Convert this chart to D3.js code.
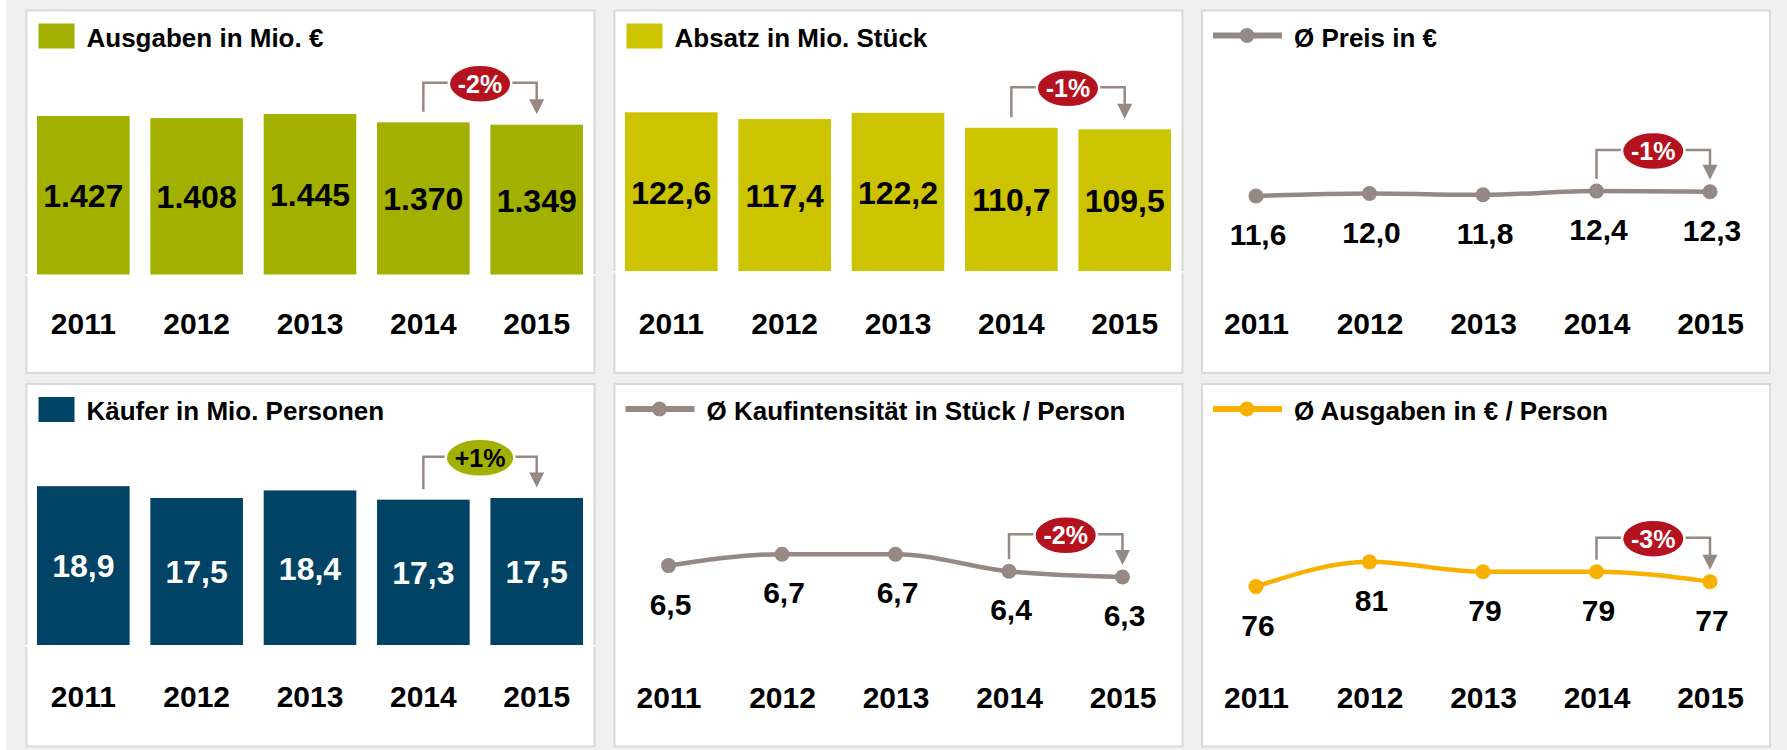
<!DOCTYPE html>
<html>
<head>
<meta charset="utf-8">
<script src="https://cdn.jsdelivr.net/npm/d3@7"></script>
<style>
  html, body { margin: 0; padding: 0; background: #f0f0f0; }
  svg { display: block; font-family: "Liberation Sans", Arial, Helvetica, sans-serif; font-weight: bold; }
</style>
</head>
<body>
<svg id="chart" width="1787" height="750"></svg>
<script>
// ---- data ----
const years = ["2011", "2012", "2013", "2014", "2015"];
const ausgaben = [1427, 1408, 1445, 1370, 1349];          // Mio. €
const absatz = [122.6, 117.4, 122.2, 110.7, 109.5];       // Mio. Stück
const preis = [11.6, 12.0, 11.8, 12.4, 12.3];             // € je Stück
const kaeufer = [18.9, 17.5, 18.4, 17.3, 17.5];           // Mio. Personen
const kaufintensitaet = [6.5, 6.7, 6.7, 6.4, 6.3];        // Stück je Person
const ausgabenProPerson = [76, 81, 79, 79, 77];           // € je Person
const changes = ["-2%", "-1%", "-1%", "+1%", "-2%", "-3%"]; // 2015 vs. 2014

// ---- styles ----
const GREEN = "#a2b000", YELLOW = "#ccc400", NAVY = "#004365";
const GRAY = "#968984", ORANGE = "#f8b100", RED = "#b4121f";

const de = d3.formatLocale({ decimal: ",", thousands: ".", grouping: [3], currency: ["", " €"] });

const panels = [
  { kind: "bar", col: 0, row: 0, title: "Ausgaben in Mio. €", values: ausgaben, fmt: de.format(",.0f"),
    color: GREEN, valueColor: "#000", domain: [0, 1600], range: [264.8, 86.2],
    change: changes[0], badgeFill: RED, badgeText: "#fff", rise: 29 },
  { kind: "bar", col: 1, row: 0, title: "Absatz in Mio. Stück", values: absatz, fmt: de.format(",.1f"),
    color: YELLOW, valueColor: "#000", domain: [0, 140], range: [261.2, 79.2],
    change: changes[1], badgeFill: RED, badgeText: "#fff", rise: 30 },
  { kind: "line", col: 2, row: 0, title: "Ø Preis in €", values: preis, fmt: de.format(".1f"),
    color: GRAY, domain: [0, 20], range: [257.7, 133.3],
    change: changes[2], badgeFill: RED, badgeText: "#fff", rise: 29 },
  { kind: "bar", col: 0, row: 1, title: "Käufer in Mio. Personen", values: kaeufer, fmt: de.format(".1f"),
    color: NAVY, valueColor: "#fff", domain: [0, 20], range: [261.7, 92.9],
    change: changes[3], badgeFill: GREEN, badgeText: "#000", rise: 30.7 },
  { kind: "line", col: 1, row: 1, title: "Ø Kaufintensität in Stück / Person", values: kaufintensitaet, fmt: de.format(".1f"),
    color: GRAY, domain: [5, 8], range: [267.1, 96.1],
    change: changes[4], badgeFill: RED, badgeText: "#fff", rise: 25 },
  { kind: "line", col: 2, row: 1, title: "Ø Ausgaben in € / Person", values: ausgabenProPerson, fmt: de.format(".0f"),
    color: ORANGE, domain: [60, 100], range: [281.8, 83.8],
    change: changes[5], badgeFill: RED, badgeText: "#fff", rise: 22 }
];

// ---- layout ----
const colX = [26.5, 614.5, 1202];
const rowY = [10.5, 384];
const PW = 568, PH = 362.5;
const YEAR_BASELINE = 323.5;

const svg = d3.select("#chart");
svg.append("rect").attr("width", 1787).attr("height", 750).attr("fill", "#f0f0f0");
svg.append("rect").attr("width", 6).attr("height", 750).attr("fill", "#ffffff");

panels.forEach(p => {
  const g = svg.append("g").attr("transform", `translate(${colX[p.col]},${rowY[p.row]})`);

  g.append("rect")
    .attr("width", PW).attr("height", PH)
    .attr("fill", "#fff").attr("stroke", "#d9d9d9").attr("stroke-width", 2);

  const y = d3.scaleLinear().domain(p.domain).range(p.range);
  let xc, topOf, gap;

  if (p.kind === "bar") {
    const x = d3.scaleBand().domain(years).range([10.5, 556.5]).paddingInner(0.183).paddingOuter(0);
    xc = d => x(d) + x.bandwidth() / 2;
    topOf = v => y(v);
    gap = 10.5;

    // legend swatch + title
    g.append("rect").attr("x", 12).attr("y", 13).attr("width", 36).attr("height", 25).attr("fill", p.color);
    g.append("text").attr("x", 60).attr("y", 36).attr("font-size", 26).attr("fill", "#000").text(p.title);

    g.selectAll("rect.bar").data(p.values).join("rect")
      .attr("class", "bar")
      .attr("x", (d, i) => x(years[i]))
      .attr("y", d => y(d))
      .attr("width", x.bandwidth())
      .attr("height", d => y(0) - y(d))
      .attr("fill", p.color);

    g.selectAll("text.val").data(p.values).join("text")
      .attr("class", "val")
      .attr("x", (d, i) => xc(years[i]))
      .attr("y", d => (y(d) + y(0)) / 2)
      .attr("dy", "0.36em")
      .attr("text-anchor", "middle")
      .attr("font-size", 32)
      .attr("fill", p.valueColor)
      .text(d => p.fmt(d));

    // category axis with white baseline
    const axisY = y(0);
    const ax = g.append("g").attr("transform", `translate(0,${axisY})`)
      .call(d3.axisBottom(x).tickSize(0).tickPadding(YEAR_BASELINE - axisY - 0.71 * 30));
    ax.select(".domain").attr("stroke", "#fff").attr("stroke-width", 1.5).attr("d", `M-1,0H${PW + 1}`);
    ax.selectAll("text").attr("font-size", 30).attr("font-weight", "bold").attr("fill", "#000")
      .attr("font-family", "\"Liberation Sans\", Arial, sans-serif");
  } else {
    const x = d3.scalePoint().domain(years).range([54, 508]);
    xc = d => x(d);
    topOf = v => y(v);
    gap = 12;

    // legend line + title
    g.append("line").attr("x1", 11).attr("x2", 80).attr("y1", 25).attr("y2", 25)
      .attr("stroke", p.color).attr("stroke-width", 6);
    g.append("circle").attr("cx", 45).attr("cy", 25).attr("r", 7.5).attr("fill", p.color);
    g.append("text").attr("x", 92).attr("y", 36).attr("font-size", 26).attr("fill", "#000").text(p.title);

    const line = d3.line()
      .x((d, i) => x(years[i]))
      .y(d => y(d))
      .curve(d3.curveMonotoneX);
    g.append("path").datum(p.values)
      .attr("d", line).attr("fill", "none")
      .attr("stroke", p.color).attr("stroke-width", 4.5).attr("stroke-linejoin", "round");

    g.selectAll("circle.pt").data(p.values).join("circle")
      .attr("class", "pt")
      .attr("cx", (d, i) => x(years[i]))
      .attr("cy", d => y(d))
      .attr("r", 7.5)
      .attr("fill", p.color);

    g.selectAll("text.val").data(p.values).join("text")
      .attr("class", "val")
      .attr("x", (d, i) => x(years[i]) + 2)
      .attr("y", d => y(d) + 49)
      .attr("text-anchor", "middle")
      .attr("font-size", 30)
      .attr("fill", "#000")
      .text(d => p.fmt(d));

    const axisY = 270;
    const ax = g.append("g").attr("transform", `translate(0,${axisY})`)
      .call(d3.axisBottom(x).tickSize(0).tickPadding(YEAR_BASELINE - axisY - 0.71 * 30));
    ax.select(".domain").remove();
    ax.selectAll("text").attr("font-size", 30).attr("font-weight", "bold").attr("fill", "#000")
      .attr("font-family", "\"Liberation Sans\", Arial, sans-serif");
  }

  // change bracket 2014 -> 2015
  const n = p.values.length;
  const x4 = xc(years[n - 2]), x5 = xc(years[n - 1]);
  const y4 = topOf(p.values[n - 2]) - gap;
  const y5 = topOf(p.values[n - 1]) - gap;
  const by = Math.min(y4, y5) - p.rise;
  const head = 15;

  g.append("path")
    .attr("d", `M${x4},${y4}V${by}H${x5}V${y5 - head + 1}`)
    .attr("fill", "none").attr("stroke", GRAY).attr("stroke-width", 2.5);
  g.append("path")
    .attr("d", `M${x5 - 7.5},${y5 - head}L${x5 + 7.5},${y5 - head}L${x5},${y5}Z`)
    .attr("fill", GRAY);

  const badge = g.append("g").attr("transform", `translate(${(x4 + x5) / 2},${by + 1})`);
  const ell = badge.append("ellipse").attr("fill", p.badgeFill).attr("stroke", "#fff").attr("stroke-width", 2.5);
  const bt = badge.append("text")
    .attr("text-anchor", "middle").attr("dy", "0.35em")
    .attr("font-size", 25).attr("fill", p.badgeText)
    .text(p.change);
  const w = bt.node().getComputedTextLength();
  ell.attr("rx", w / 2 + 9).attr("ry", 19);
});
</script>
</body>
</html>
